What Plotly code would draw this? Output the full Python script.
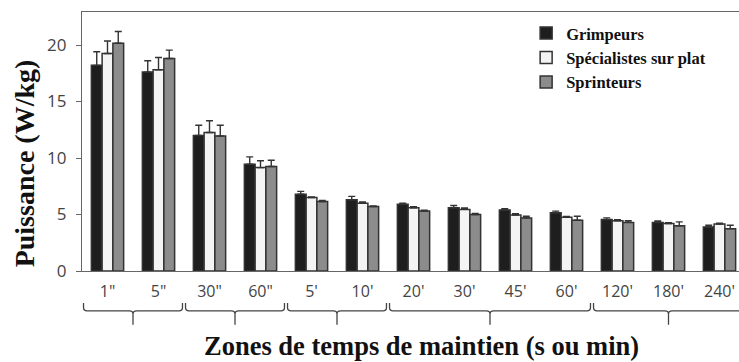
import plotly.graph_objects as go

# Durées de maintien (axe des x)
zones = ['1"', '5"', '30"', '60"', "5'", "10'", "20'", "30'", "45'", "60'", "120'", "180'", "240'"]

# Puissance moyenne (W/kg) et écart (barre d'erreur vers le haut)
grimpeurs = [18.2, 17.6, 12.0, 9.45, 6.8, 6.3, 5.9, 5.6, 5.4, 5.15, 4.55, 4.3, 3.9]
grimpeurs_err = [1.2, 1.0, 0.9, 0.65, 0.25, 0.3, 0.1, 0.2, 0.12, 0.15, 0.15, 0.12, 0.15]
plat = [19.25, 17.8, 12.25, 9.15, 6.5, 6.0, 5.6, 5.45, 4.95, 4.75, 4.45, 4.2, 4.15]
plat_err = [1.1, 1.1, 1.05, 0.6, 0.05, 0.1, 0.08, 0.12, 0.12, 0.08, 0.08, 0.08, 0.08]
sprinteurs = [20.15, 18.8, 11.95, 9.25, 6.15, 5.7, 5.3, 5.0, 4.7, 4.5, 4.3, 4.0, 3.75]
sprinteurs_err = [1.05, 0.75, 0.95, 0.55, 0.1, 0.05, 0.08, 0.1, 0.15, 0.35, 0.15, 0.35, 0.3]

# Regroupements d'accolades sous l'axe (indices de zones)
accolades = [(0, 1), (2, 3), (4, 5), (6, 9), (10, 12)]

series = [
    ("Grimpeurs", grimpeurs, grimpeurs_err, "#1e1e1e"),
    ("Spécialistes sur plat", plat, plat_err, "#f4f4f4"),
    ("Sprinteurs", sprinteurs, sprinteurs_err, "#8c8c8c"),
]

xpos = list(range(len(zones)))
fig = go.Figure()
for i, (name, vals, errs, col) in enumerate(series):
    fig.add_trace(go.Bar(
        x=xpos, y=vals, name=f"<b>{name}</b>", legendgroup=f"g{i}",
        marker=dict(color=col, line=dict(color="#333333", width=1.5)),
        error_y=dict(type="data", symmetric=False, array=errs,
                     arrayminus=[0] * len(errs), color="#333333",
                     thickness=1.4, width=3.5),
    ))

# Repères des accolades (x en unités de zone, y relatif à la zone de tracé)
serif = "Liberation Serif"
y_top, y_mid, y_bot = -0.124, -0.154, -0.208
rx, ry = 0.07, 0.012
for a, b in accolades:
    x0, x1 = a - 0.5 + 0.03, b + 0.5 - 0.03
    c = (a + b) / 2
    path = (f"M {x0},{y_top} L {x0},{y_mid + ry} Q {x0},{y_mid} {x0 + rx},{y_mid} "
            f"L {c - rx},{y_mid} Q {c},{y_mid} {c},{y_mid - ry} L {c},{y_bot} "
            f"M {c},{y_mid - ry} Q {c},{y_mid} {c + rx},{y_mid} "
            f"L {x1 - rx},{y_mid} Q {x1},{y_mid} {x1},{y_mid + ry} L {x1},{y_top}")
    fig.add_shape(type="path", path=path, xref="x", yref="paper",
                  line=dict(color="#444444", width=1.3))

fig.add_annotation(text="<b>Puissance (W/kg)</b>", xref="paper", yref="paper",
                   x=-0.087, y=0.415, textangle=-90, showarrow=False,
                   font=dict(family=serif, size=28, color="#111111"),
                   xanchor="center", yanchor="middle")
fig.add_annotation(text="<b>Zones de temps de maintien (s ou min)</b>",
                   xref="paper", yref="paper", x=0.516, y=-0.29,
                   showarrow=False, xanchor="center", yanchor="middle",
                   font=dict(family=serif, size=26.5, color="#111111"))

xr = [-0.5, -0.5 + 657 / 51]
fig.update_layout(
    width=739, height=362,
    margin=dict(l=82, r=0, t=12, b=91),
    paper_bgcolor="white", plot_bgcolor="white",
    barmode="group", bargap=0.367, bargroupgap=0,
    showlegend=True,
    legend=dict(x=0.676, y=0.985, xanchor="left", yanchor="top",
                bgcolor="rgba(0,0,0,0)", traceorder="normal",
                font=dict(family=serif, size=16.5, color="#111111")),
    font=dict(family="Open Sans", color="#444444"),
    xaxis=dict(range=xr, tickmode="array", tickvals=xpos, ticktext=zones,
               ticks="", showline=True, linecolor="#666666", linewidth=1.2,
               mirror=True, showgrid=False, zeroline=False,
               tickfont=dict(family="Open Sans", size=16, color="#444444"),
               ticklabelstandoff=6),
    xaxis2=dict(range=xr, overlaying="x", side="bottom", tickmode="array",
                tickvals=[k + 0.5 for k in range(len(zones) - 1)],
                ticks="outside", ticklen=5, tickcolor="#666666", tickwidth=1.2,
                showticklabels=False, showgrid=False, zeroline=False,
                showline=False),
    yaxis=dict(range=[0, 259 / 11.3], tickmode="array", tickvals=[0, 5, 10, 15, 20],
               ticks="outside", ticklen=5, tickcolor="#666666", tickwidth=1.2,
               showline=True, linecolor="#666666", linewidth=1.2,
               showgrid=False, zeroline=False,
               tickfont=dict(family="Open Sans", size=17, color="#444444"),
               ticklabelstandoff=6),
)

fig.write_html("out.html")
